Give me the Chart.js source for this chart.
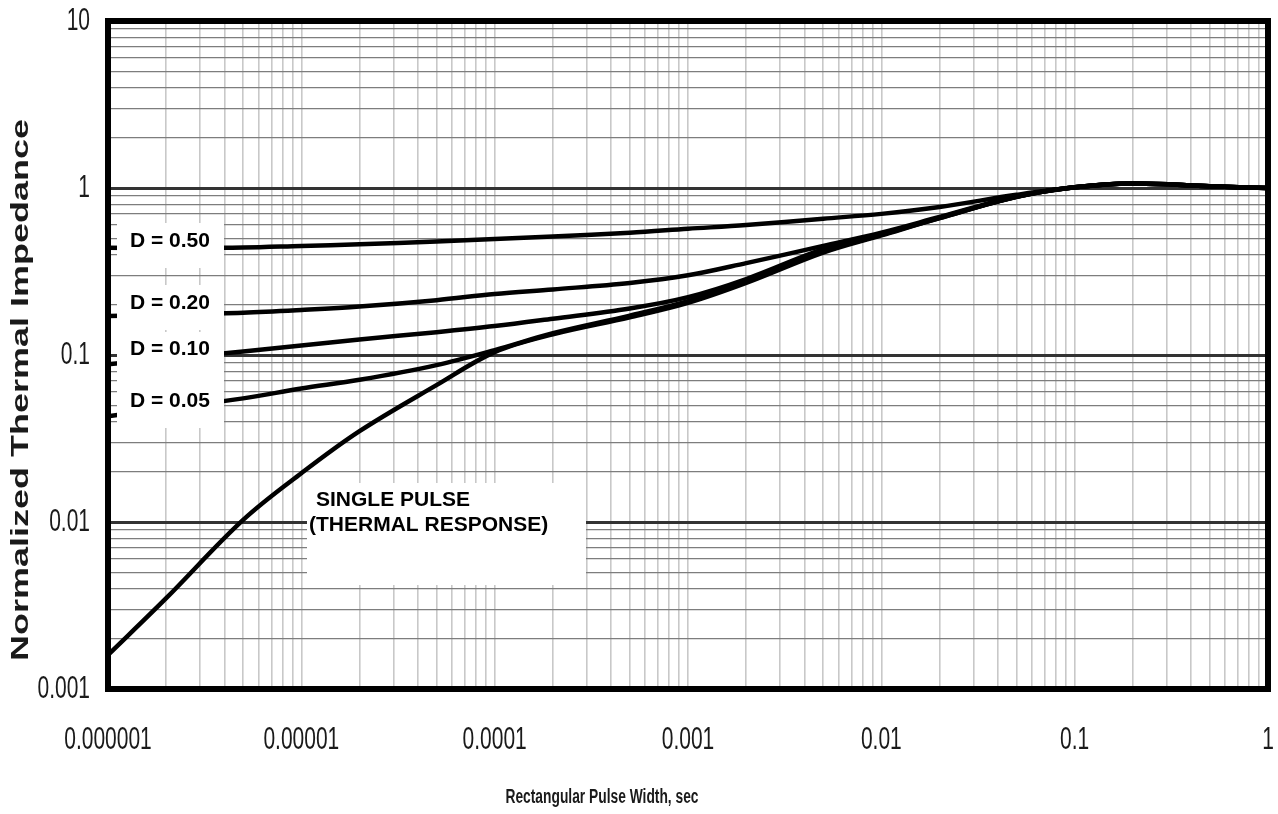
<!DOCTYPE html>
<html>
<head>
<meta charset="utf-8">
<title>Normalized Thermal Impedance</title>
<script src="https://cdn.jsdelivr.net/npm/chart.js@4.4.1/dist/chart.umd.min.js"></script>
<style>
  html, body { margin: 0; padding: 0; background: #fff; }
  .chart-container { position: relative; width: 1278px; height: 814px; }
</style>
</head>
<body>
<div class="chart-container"><canvas id="zthChart"></canvas></div>
<script>
// pulse widths (sec) shared by all curves
const pulseWidth = [1e-6, 2e-6, 5e-6, 1e-5, 2e-5, 5e-5, 1e-4, 2e-4, 5e-4, 1e-3, 2e-3, 5e-3, 1e-2, 2e-2, 5e-2, 0.1, 0.2, 0.5, 1];

const duty050 = [0.438, 0.438, 0.44, 0.45, 0.46, 0.478, 0.495, 0.512, 0.54, 0.57, 0.60, 0.655, 0.70, 0.77, 0.91, 1.01, 1.065, 1.025, 1.0];
const duty020 = [0.171, 0.174, 0.179, 0.186, 0.195, 0.213, 0.232, 0.247, 0.27, 0.30, 0.355, 0.45, 0.54, 0.67, 0.89, 1.01, 1.065, 1.025, 1.0];
const duty010 = [0.088, 0.095, 0.105, 0.114, 0.124, 0.137, 0.149, 0.165, 0.19, 0.222, 0.285, 0.43, 0.53, 0.665, 0.885, 1.01, 1.065, 1.025, 1.0];
const duty005 = [0.043, 0.048, 0.055, 0.063, 0.071, 0.087, 0.107, 0.135, 0.172, 0.21, 0.275, 0.42, 0.525, 0.66, 0.885, 1.01, 1.065, 1.025, 1.0];
const singlePulse = [0.0016, 0.0035, 0.0103, 0.0196, 0.035, 0.066, 0.104, 0.133, 0.168, 0.205, 0.27, 0.41, 0.52, 0.66, 0.885, 1.01, 1.065, 1.025, 1.0];

const xDecades = [1e-6, 1e-5, 1e-4, 1e-3, 1e-2, 0.1, 1];
const xTickLabels = ['0.000001', '0.00001', '0.0001', '0.001', '0.01', '0.1', '1'];
const yDecades = [0.001, 0.01, 0.1, 1, 10];
const yTickLabels = ['0.001', '0.01', '0.1', '1', '10'];

const xTitle = 'Rectangular Pulse Width, sec';
const yTitle = 'Normalized Thermal Impedance';
const curveLabels = ['D = 0.50', 'D = 0.20', 'D = 0.10', 'D = 0.05'];
const singleLabel = ['SINGLE PULSE', '(THERMAL RESPONSE)'];

const toPoints = ys => pulseWidth.map((x, i) => ({ x, y: ys[i] }));

// 1..9 per decade for the log grid
const logGrid = decades => {
    const out = [];
    decades.forEach((d, i) => {
        if (i === decades.length - 1) { out.push(d); return; }
        for (let m = 1; m < 10; m++) out.push(+(d * m).toPrecision(6));
    });
    return out;
};
const isDecade = v => Math.abs(Math.log10(v) - Math.round(Math.log10(v))) < 1e-6;

const font = '"Liberation Sans", Arial, sans-serif';
const STRETCH = 1.47; // the original artwork is stretched vertically

// axis text: drawn tall like the scanned datasheet
const axisTextPlugin = {
    id: 'axisText',
    afterDraw(chart) {
        const { ctx } = chart;
        const xs = chart.scales.x, ys = chart.scales.y;
        ctx.save();
        ctx.fillStyle = '#1a1a1a';
        ctx.textBaseline = 'middle';
        ctx.font = '21px ' + font;

        ctx.textAlign = 'center';
        xDecades.forEach((v, i) => {
            ctx.save();
            ctx.translate(xs.getPixelForValue(v), 740);
            ctx.scale(1, STRETCH);
            ctx.fillText(xTickLabels[i], 0, 0);
            ctx.restore();
        });

        ctx.textAlign = 'right';
        yDecades.forEach((v, i) => {
            ctx.save();
            ctx.translate(90, ys.getPixelForValue(v));
            ctx.scale(1, STRETCH);
            ctx.fillText(yTickLabels[i], 0, 0);
            ctx.restore();
        });

        ctx.textAlign = 'center';
        ctx.font = 'bold 13.8px ' + font;
        ctx.save();
        ctx.translate(602, 797);
        ctx.scale(1, STRETCH);
        ctx.fillText(xTitle, 0, 0);
        ctx.restore();

        ctx.font = 'bold 24px ' + font;
        ctx.save();
        ctx.translate(21, 390);
        ctx.rotate(-Math.PI / 2);
        ctx.scale(1.5, 1);
        ctx.fillText(yTitle, 0, 0);
        ctx.restore();
        ctx.restore();
    }
};

// white label boxes over the curves, and the heavy frame
const boxPlugin = {
    id: 'boxes',
    afterDatasetsDraw(chart) {
        const { ctx, chartArea: a } = chart;
        const dBoxes = [[223, 45, 247], [285, 45, 309], [332, 50, 355], [382, 46, 407]];
        ctx.save();
        ctx.font = 'bold 21px ' + font;
        ctx.textBaseline = 'alphabetic';
        dBoxes.forEach((b, i) => {
            ctx.fillStyle = '#fff';
            ctx.fillRect(a.left + 9, b[0], 107, b[1]);
            ctx.fillStyle = '#000';
            ctx.fillText(curveLabels[i], a.left + 22, b[2]);
        });
        ctx.fillStyle = '#fff';
        ctx.fillRect(307, 483, 279, 102);
        ctx.fillStyle = '#000';
        ctx.fillText(singleLabel[0], 316, 506);
        ctx.fillText(singleLabel[1], 309, 531);
        ctx.restore();
    },
    afterDraw(chart) {
        const { ctx, chartArea: a } = chart;
        ctx.save();
        ctx.strokeStyle = '#000';
        ctx.lineWidth = 6;
        ctx.strokeRect(a.left, a.top, a.right - a.left, a.bottom - a.top);
        ctx.restore();
    }
};

const lineStyle = {
    borderColor: '#000',
    borderWidth: 4.5,
    pointRadius: 0,
    fill: false,
    tension: 0.35
};

new Chart(document.getElementById('zthChart'), {
    type: 'line',
    data: {
        datasets: [
            { label: curveLabels[0], data: toPoints(duty050), ...lineStyle },
            { label: curveLabels[1], data: toPoints(duty020), ...lineStyle },
            { label: curveLabels[2], data: toPoints(duty010), ...lineStyle },
            { label: curveLabels[3], data: toPoints(duty005), ...lineStyle },
            { label: 'Single pulse', data: toPoints(singlePulse), ...lineStyle }
        ]
    },
    options: {
        responsive: true,
        maintainAspectRatio: false,
        animation: false,
        layout: { padding: { top: 21, right: 10, left: 0, bottom: 0 } },
        scales: {
            x: {
                type: 'logarithmic',
                min: 1e-6,
                max: 1,
                afterBuildTicks: s => { s.ticks = logGrid(xDecades).map(value => ({ value })); },
                afterFit: s => { s.height = 125; },
                border: { display: false },
                grid: { color: '#c8c8c8', lineWidth: 1.6, drawTicks: false },
                ticks: { display: false, autoSkip: false }
            },
            y: {
                type: 'logarithmic',
                min: 0.001,
                max: 10,
                afterBuildTicks: s => { s.ticks = logGrid(yDecades).map(value => ({ value })); },
                afterFit: s => { s.width = 108; },
                border: { display: false },
                grid: {
                    drawTicks: false,
                    color: ctx => isDecade(ctx.tick.value) ? '#333' : '#7d7d7d',
                    lineWidth: ctx => isDecade(ctx.tick.value) ? 3 : 1.3
                },
                ticks: { display: false, autoSkip: false }
            }
        },
        plugins: {
            legend: { display: false },
            tooltip: { enabled: false }
        }
    },
    plugins: [boxPlugin, axisTextPlugin]
});
</script>
</body>
</html>
